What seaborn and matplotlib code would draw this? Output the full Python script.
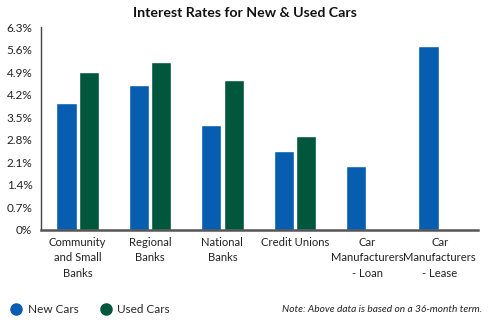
import matplotlib
matplotlib.use("Agg")
import matplotlib.pyplot as plt
from matplotlib.lines import Line2D
import seaborn as sns
import pandas as pd
import numpy as np

categories = ["Community\nand Small\nBanks", "Regional\nBanks", "National\nBanks",
              "Credit Unions", "Car\nManufacturers\n- Loan", "Car\nManufacturers\n- Lease"]
new_cars = [3.93, 4.50, 3.26, 2.45, 1.97, 5.70]
used_cars = [4.89, 5.20, 4.65, 2.90, np.nan, np.nan]
series_names = ["New Cars", "Used Cars"]
ytick_vals = [0, 0.7, 1.4, 2.1, 2.8, 3.5, 4.2, 4.9, 5.6, 6.3]
ytick_labels = ["0%", "0.7%", "1.4%", "2.1%", "2.8%", "3.5%", "4.2%", "4.9%", "5.6%", "6.3%"]
colors = ["#075DB0", "#00573C"]

df = pd.DataFrame({
    "category": categories * 2,
    "series": [series_names[0]] * 6 + [series_names[1]] * 6,
    "rate": new_cars + used_cars,
})

sns.set_theme(style="white")
plt.rcParams["font.family"] = ["Lato", "DejaVu Sans"]

fig = plt.figure(figsize=(4.9, 3.23), dpi=100)
ax = fig.add_axes([40.7 / 490, 1 - 229.7 / 323, (478 - 40.7) / 490, (229.7 - 27) / 323])

sns.barplot(data=df, x="category", y="rate", hue="series", order=categories,
            hue_order=series_names, palette=colors, width=0.62, gap=0.1,
            saturation=1, legend=False, ax=ax)

ax.set_xlim(-0.51, 5.53)
ax.set_ylim(0, 6.3)
ax.set_yticks(ytick_vals)
ax.set_yticklabels(ytick_labels, fontsize=8.5, color="#222222")
ax.tick_params(axis="x", labelsize=8.1, colors="#222222", length=0, pad=5)
ax.tick_params(axis="y", length=0, pad=6)
for lbl in ax.get_xticklabels():
    lbl.set_linespacing(1.5)
ax.set_xlabel("")
ax.set_ylabel("")
for s in ["top", "right"]:
    ax.spines[s].set_visible(False)
ax.spines["left"].set_color("#444444")
ax.spines["left"].set_linewidth(1.0)
ax.spines["bottom"].set_color("#555555")
ax.spines["bottom"].set_linewidth(1.8)
ax.grid(False)

fig.text(0.5, 1 - 13 / 323, "Interest Rates for New & Used Cars", ha="center", va="center",
         fontsize=10.2, fontweight="bold", color="#111111")

handles = [Line2D([0], [0], marker="o", linestyle="", markersize=8,
                  markerfacecolor=c, markeredgecolor=c) for c in colors]
fig.legend(handles, series_names, loc="center left", bbox_to_anchor=(10 / 490, 1 - 309.5 / 323),
           ncol=2, frameon=False, fontsize=8.5, handletextpad=0.5, columnspacing=1.8,
           handlelength=1.0, borderaxespad=0, borderpad=0)
fig.text(482 / 490, 1 - 309.5 / 323, "Note: Above data is based on a 36-month term.",
         ha="right", va="center", fontsize=7.3, style="italic", color="#222222")

fig.savefig("out.png", dpi=100)
